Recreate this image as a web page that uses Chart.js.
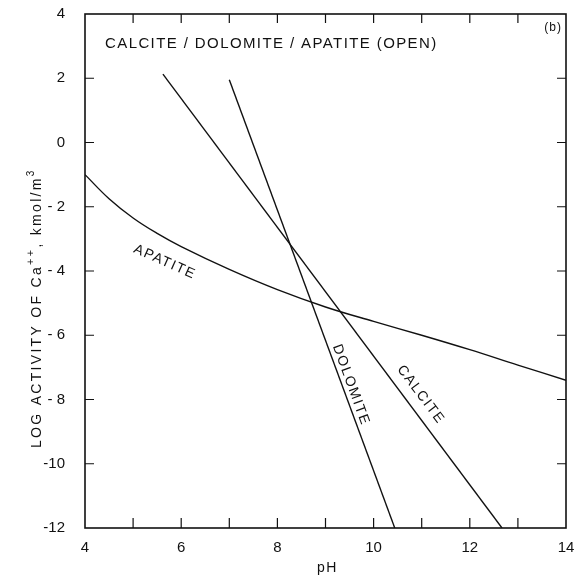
<!DOCTYPE html>
<html>
<head>
<meta charset="utf-8">
<script src="https://cdn.jsdelivr.net/npm/chart.js@4"></script>
<style>
  html, body { margin: 0; padding: 0; background: #fff; }
  canvas { display: block; }
</style>
</head>
<body>
<canvas id="chart" width="582" height="580"></canvas>
<script>
// values
const apatitePH = [4, 4.5, 5, 5.5, 6, 7, 8, 9, 10, 11, 12, 13, 14];
const apatiteLogCa = [-1.0, -1.75, -2.35, -2.83, -3.24, -3.95, -4.58, -5.12, -5.57, -6.0, -6.45, -6.93, -7.4];
const calcitePH = [5.62, 12.67];
const calciteLogCa = [2.13, -12];
const dolomitePH = [7.0, 10.44];
const dolomiteLogCa = [1.95, -12];
const yTickLabels = { 4: '4', 2: '2', 0: '0', '-2': '- 2', '-4': '- 4', '-6': '- 6', '-8': '- 8', '-10': '-10', '-12': '-12' };
const xTickLabels = { 4: '4', 6: '6', 8: '8', 10: '10', 12: '12', 14: '14' };

// curve labels: text, x, y, angle (deg)
const curveLabels = [
    { text: 'APATITE', x: 5.66, y: -3.72, angle: 24 },
    { text: 'DOLOMITE', x: 9.53, y: -7.55, angle: 70 },
    { text: 'CALCITE', x: 10.98, y: -7.85, angle: 53 }
];

const FONT = '"Liberation Sans", Arial, sans-serif';

function pts(xs, ys) {
    return xs.map((x, i) => ({ x: x, y: ys[i] }));
}

function spacedText(ctx, text, x, y, spacing) {
    ctx.letterSpacing = spacing + 'px';
    ctx.fillText(text, x, y);
    ctx.letterSpacing = '0px';
}

const decorPlugin = {
    id: 'decor',
    afterDraw(chart) {
        const ctx = chart.ctx;
        const a = chart.chartArea;
        const xs = chart.scales.x;
        const ys = chart.scales.y;
        ctx.save();
        ctx.strokeStyle = '#111';
        ctx.lineWidth = 1.6;
        ctx.strokeRect(a.left, a.top, a.right - a.left, a.bottom - a.top);

        // inward ticks
        ctx.lineWidth = 1.2;
        ctx.beginPath();
        for (let v = 5; v < 14; v++) {
            const px = xs.getPixelForValue(v);
            ctx.moveTo(px, a.bottom); ctx.lineTo(px, a.bottom - 10);
            ctx.moveTo(px, a.top); ctx.lineTo(px, a.top + 9);
        }
        for (let v = -10; v < 4; v += 2) {
            const py = ys.getPixelForValue(v);
            ctx.moveTo(a.left, py); ctx.lineTo(a.left + 9, py);
            ctx.moveTo(a.right, py); ctx.lineTo(a.right - 9, py);
        }
        ctx.stroke();

        ctx.fillStyle = '#111';
        // title inside the plot
        ctx.font = '15px ' + FONT;
        ctx.textAlign = 'left';
        ctx.textBaseline = 'middle';
        spacedText(ctx, 'CALCITE / DOLOMITE / APATITE (OPEN)', 105, 44, 1.4);
        ctx.font = '12px ' + FONT;
        ctx.textAlign = 'right';
        spacedText(ctx, '(b)', 562, 28, 1);

        // curve labels
        ctx.font = '14px ' + FONT;
        ctx.textAlign = 'center';
        ctx.textBaseline = 'middle';
        curveLabels.forEach(l => {
            ctx.save();
            ctx.translate(xs.getPixelForValue(l.x), ys.getPixelForValue(l.y));
            ctx.rotate(l.angle * Math.PI / 180);
            spacedText(ctx, l.text, 0, 0, 1.5);
            ctx.restore();
        });

        // axis titles
        ctx.font = '14px ' + FONT;
        ctx.textAlign = 'center';
        spacedText(ctx, 'pH', (a.left + a.right) / 2 + 2, 568, 1.5);
        ctx.save();
        ctx.translate(37, 305);
        ctx.rotate(-Math.PI / 2);
        ctx.textAlign = 'left';
        ctx.letterSpacing = '2.3px';
        let x = -143;
        const parts = [['LOG ACTIVITY OF Ca', 14, 0], ['++', 11, -6], [', kmol/m', 14, 0], ['3', 10, -6]];
        parts.forEach(p => {
            ctx.font = p[1] + 'px ' + FONT;
            ctx.fillText(p[0], x, p[2]);
            x += ctx.measureText(p[0]).width;
        });
        ctx.letterSpacing = '0px';
        ctx.restore();
        ctx.restore();
    }
};

const lineStyle = {
    borderColor: '#111',
    borderWidth: 1.4,
    pointRadius: 0,
    fill: false
};

new Chart(document.getElementById('chart').getContext('2d'), {
    type: 'line',
    data: {
        datasets: [
            Object.assign({ label: 'Apatite', data: pts(apatitePH, apatiteLogCa), tension: 0.4 }, lineStyle),
            Object.assign({ label: 'Calcite', data: pts(calcitePH, calciteLogCa) }, lineStyle),
            Object.assign({ label: 'Dolomite', data: pts(dolomitePH, dolomiteLogCa) }, lineStyle)
        ]
    },
    options: {
        responsive: false,
        animation: false,
        layout: { padding: { top: 14, right: 16, left: 0, bottom: 0 } },
        plugins: {
            legend: { display: false },
            tooltip: { enabled: false }
        },
        scales: {
            x: {
                type: 'linear',
                min: 4,
                max: 14,
                grid: { display: false },
                border: { display: false },
                afterFit(scale) { scale.height = 52; },
                ticks: {
                    stepSize: 2,
                    padding: 3,
                    maxRotation: 0,
                    color: '#111',
                    font: { size: 15, family: FONT },
                    callback: v => xTickLabels[v] || ''
                }
            },
            y: {
                min: -12,
                max: 4,
                grid: { display: false },
                border: { display: false },
                afterFit(scale) {
                    scale.width = 85;
                    scale.paddingTop = 0;
                    scale.paddingBottom = 0;
                },
                ticks: {
                    stepSize: 2,
                    padding: 12,
                    color: '#111',
                    font: { size: 15, family: FONT },
                    callback: v => yTickLabels[v] || ''
                }
            }
        }
    },
    plugins: [decorPlugin]
});
</script>
</body>
</html>
